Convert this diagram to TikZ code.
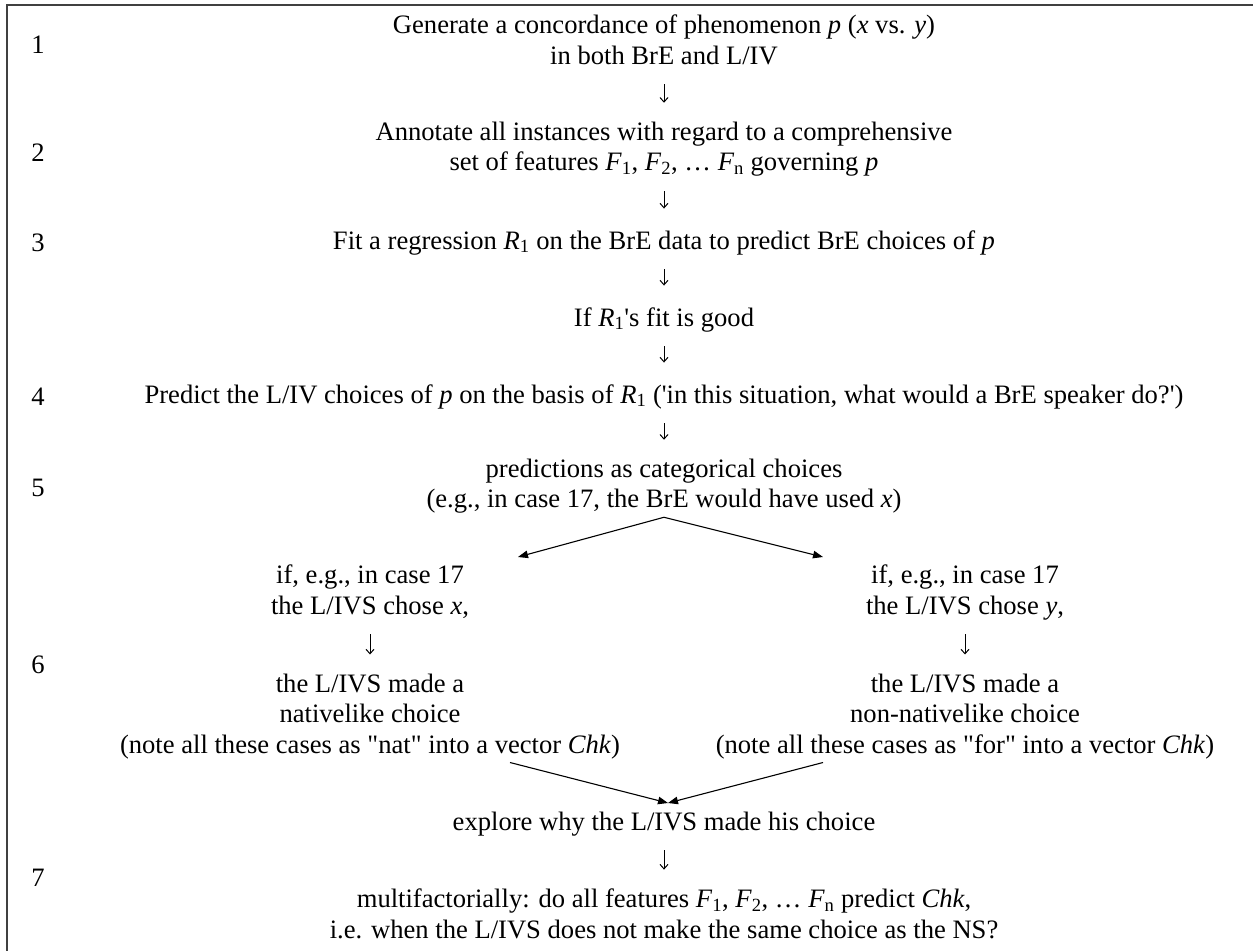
\documentclass[tikz,border=0pt]{standalone}
\usepackage{fontspec}
\setmainfont{Liberation Serif}
\usepackage{tikz}
\usetikzlibrary{arrows.meta}

\newcommand{\sub}[2]{\textit{#1}\textsubscript{#2}}

\begin{document}
\begin{tikzpicture}[x=1pt, y=-1pt,
    every node/.style={font=\fontsize{26.6}{30.5}\selectfont},
    txt/.style={inner sep=0pt, align=center, execute at begin node=\strut, execute at end node=\strut},
    num/.style={inner sep=0pt},
    down/.style={-{Straight Barb[length=4.5pt,width=8pt]}, line width=1pt, shorten <=11pt, shorten >=19pt},
    fork/.style={-{Triangle[length=10pt,width=7.5pt]}, line width=1.1pt}]
  \useasboundingbox (0,0) rectangle (1253,951);

  % Frame
  \draw[line width=1.6pt, black!75] (1253,5) -- (7,5) -- (7,951);

  % Step numbers
  \node[num] (n1) at (38,45) {1};
  \node[num] (n2) at (38,153) {2};
  \node[num] (n3) at (38,243) {3};
  \node[num] (n4) at (38,397) {4};
  \node[num] (n5) at (38,488) {5};
  \node[num] (n6) at (38,665) {6};
  \node[num] (n7) at (38,878) {7};

  % Main column
  \node[txt] (gen) at (664,44) {Generate a concordance of phenomenon \textit{p} (\textit{x} vs. \textit{y})\\in both BrE and L/IV};
  \node[txt] (ann) at (664,151) {Annotate all instances with regard to a comprehensive\\set of features \sub{F}{1}, \sub{F}{2}, \dots\ \sub{F}{n} governing \textit{p}};
  \node[txt] (fit) at (664,243) {Fit a regression \sub{R}{1} on the BrE data to predict BrE choices of \textit{p}};
  \node[txt] (good) at (664,320) {If \sub{R}{1}\textquotesingle s fit is good};
  \node[txt] (pred) at (664,397) {Predict the L/IV choices of \textit{p} on the basis of \sub{R}{1} (\textquotesingle in this situation, what would a BrE speaker do?\textquotesingle)};
  \node[txt] (cat) at (664,488) {predictions as categorical choices\\(e.g., in case 17, the BrE would have used \textit{x})};

  % Two branches
  \node[txt] (ifx) at (370,594) {if, e.g., in case 17\\the L/IVS chose \textit{x},};
  \node[txt] (ify) at (965,594) {if, e.g., in case 17\\the L/IVS chose \textit{y},};
  \node[txt] (nat) at (370,718) {the L/IVS made a\\nativelike choice\\(note all these cases as \textquotedbl nat\textquotedbl\ into a vector \textit{Chk})};
  \node[txt] (non) at (965,718) {the L/IVS made a\\non-nativelike choice\\(note all these cases as \textquotedbl for\textquotedbl\ into a vector \textit{Chk})};

  % Last step
  \node[txt] (why) at (664,824) {explore why the L/IVS made his choice};
  \node[txt] (multi) at (664,918) {multifactorially: do all features \sub{F}{1}, \sub{F}{2}, \dots\ \sub{F}{n} predict \textit{Chk},\\i.e. when the L/IVS does not make the same choice as the NS?};

  % Arrows
  \draw[down] (gen) -- (ann);
  \draw[down] (ann) -- (fit);
  \draw[down] (fit) -- (good);
  \draw[down] (good) -- (pred);
  \draw[down] (pred) -- (cat);
  \draw[down] (ifx) -- (nat);
  \draw[down] (ify) -- (non);
  \draw[down] (why) -- (multi);

  \coordinate (splitL) at (518,557);
  \coordinate (splitR) at (823,557);
  \coordinate (join) at (668,803);
  \draw[fork] (cat.south) -- (splitL);
  \draw[fork] (cat.south) -- (splitR);
  \draw[fork] ([xshift=140pt]nat.south) -- (join);
  \draw[fork] ([xshift=-142pt]non.south) -- (join);
\end{tikzpicture}
\end{document}
